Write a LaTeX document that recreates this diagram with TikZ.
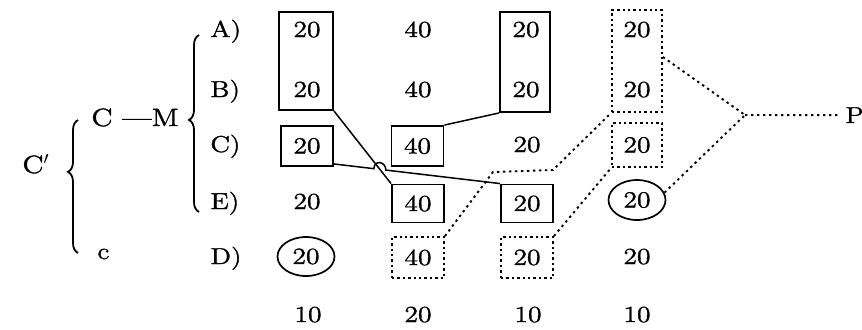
\documentclass[tikz,border=0pt]{standalone}
\usepackage{fontspec}
\setmainfont{Latin Modern Roman}[FakeStretch=1.2, FakeBold=1.5]
\usetikzlibrary{decorations.pathreplacing,calc,intersections,shapes.geometric}
\begin{document}
\begin{tikzpicture}[x=0.5pt,y=-0.5pt,
  every node/.style={font=\fontsize{11.5}{13}\selectfont},
  num/.style={inner sep=0pt, anchor=base},
  lbl/.style={inner sep=0pt, anchor=base west},
  sbox/.style={draw, line width=0.95pt, minimum width=26pt, minimum height=20pt, inner sep=0pt},
  dbox/.style={draw, line width=0.95pt, dash pattern=on 1.2pt off 1.5pt, minimum width=26pt, minimum height=20.5pt, inner sep=0pt},
  ell/.style={draw, ellipse, line width=0.85pt, minimum width=28.5pt, minimum height=19.5pt, inner sep=0pt},
  sline/.style={line width=0.75pt},
  dline/.style={line width=0.95pt, dash pattern=on 1.2pt off 1.8pt},
  bracedeco/.style={line width=0.9pt, decorate, decoration={brace, amplitude=5pt, aspect=#1}}
]
\useasboundingbox (0,0) rectangle (862,329);

% left labels
\node[lbl, font=\fontsize{12.5}{14}\selectfont] (Cp) at (22,173) {C$'$};
\node[lbl, font=\fontsize{12.5}{14}\selectfont] (CM) at (91,126) {C —M};
\node[lbl] (cc) at (97,259) {c};
\node[lbl] (lA) at (210,37) {A)};
\node[lbl] (lB) at (210,97) {B)};
\node[lbl] (lC) at (210,152) {C)};
\node[lbl] (lE) at (210,209) {E)};
\node[lbl] (lD) at (210,264) {D)};

% braces
\draw[bracedeco=0.61] (78,253) -- (78,120);
\draw[bracedeco=0.52] (199,212) -- (199,35);

% big boxes for rows A and B
\node[sbox, minimum width=27pt, minimum height=49pt] (c1AB) at (306,61) {};
\node[sbox, minimum width=25pt, minimum height=50pt] (c3AB) at (525,62) {};
\node[dbox, minimum width=25pt, minimum height=51pt] (c4AB) at (637,61) {};

% row A
\node[num] (a1) at (307,37) {20};
\node[num] (a2) at (418,37) {40};
\node[num] (a3) at (526,37) {20};
\node[num] (a4) at (637,37) {20};
% row B
\node[num] (b1) at (307,97) {20};
\node[num] (b2) at (418,97) {40};
\node[num] (b3) at (526,97) {20};
\node[num] (b4) at (637,97) {20};
% row C
\node[sbox] (c1C) at (307,146) {20};
\node[sbox] (c2C) at (417.5,146) {40};
\node[num] (c3) at (527,152) {20};
\node[dbox, minimum width=25pt, minimum height=22pt] (c4C) at (637,145) {20};
% row E
\node[num] (e1) at (307,209) {20};
\node[sbox, minimum height=19pt] (c2E) at (418,203.5) {40};
\node[sbox, minimum height=19pt] (c3E) at (527,203.5) {20};
\node[ell, minimum height=20pt] (c4E) at (637,200) {20};
% row D
\node[ell] (c1D) at (306,256.5) {20};
\node[dbox] (c2D) at (418,257.5) {40};
\node[dbox] (c3D) at (527,257.5) {20};
\node[num] (d4) at (637,264) {20};
% bottom row
\node[num] (f1) at (308,322) {10};
\node[num] (f2) at (418,322) {20};
\node[num] (f3) at (528,322) {10};
\node[num] (f4) at (637,322) {10};

% P
\node[inner sep=3pt, anchor=base west] (P) at (839,123) {P};

% solid connectors
\coordinate (s2) at ($(c1C.south east)+(0,-3)$);
\path[name path=l1] (c1AB.south east) -- (c2E.north west);
\path[name path=l2] (s2) -- (c3E.north west);
\path[name intersections={of=l1 and l2, by=X}];
\draw[sline] (c1AB.south east) -- (c2E.north west);
\draw[sline] (s2) -- ($(X)!3pt!(s2)$)
  .. controls ($(X)!3pt!(s2)+(0,-9)$) and ($(X)!3pt!(c3E.north west)+(0,-9)$)
  .. ($(X)!3pt!(c3E.north west)$) -- (c3E.north west);
\draw[sline] (c3AB.south west) -- (c2C.north east);

% dotted connectors
\coordinate (k1) at (493,172);
\coordinate (k2) at (553,170);
\coordinate (J) at (745,115);
\draw[dline] (c2D.north east) -- (k1) -- (k2) -- (c4AB.south west);
\draw[dline] (c3D.north east) -- (c4C.south west);
\draw[dline] ([yshift=2pt]c4AB.east) -- (J);
\draw[dline] (c4E.15) -- (J);
\draw[dline] (J) -- (P);
\end{tikzpicture}
\end{document}
